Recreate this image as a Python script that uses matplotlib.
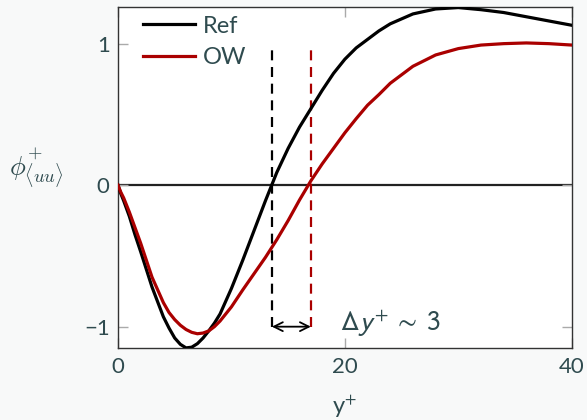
import numpy as np
import matplotlib
matplotlib.use("Agg")
import matplotlib.pyplot as plt

plt.rcParams['font.family'] = ['Lato', 'DejaVu Sans']
txt = '#2f4b4f'

# wall-normal distance and the two phi profiles
yplus = [0, 0.25, 0.5, 1, 1.5, 2, 3, 4, 4.5, 5, 5.5, 6, 6.5, 7, 7.5, 8,
         8.5, 9, 10, 11, 12, 13, 14, 15, 16, 17, 18, 19, 20, 21, 22, 23,
         24, 26, 28, 30, 32, 34, 36, 38, 40]
phi_ref = [0.0, -0.06, -0.11, -0.22, -0.35, -0.47, -0.72, -0.93, -1.01,
           -1.08, -1.125, -1.15, -1.145, -1.12, -1.08, -1.03, -0.975,
           -0.91, -0.73, -0.53, -0.32, -0.11, 0.09, 0.26, 0.41, 0.54, 0.67,
           0.79, 0.89, 0.97, 1.03, 1.09, 1.14, 1.21, 1.245, 1.255, 1.24,
           1.22, 1.19, 1.16, 1.13]
phi_ow = [0.0, -0.05, -0.09, -0.19, -0.30, -0.41, -0.65, -0.83, -0.90,
          -0.95, -0.99, -1.02, -1.04, -1.05, -1.045, -1.03, -1.00, -0.96,
          -0.86, -0.74, -0.625, -0.51, -0.385, -0.25, -0.105, 0.03, 0.15,
          0.26, 0.37, 0.47, 0.565, 0.64, 0.72, 0.84, 0.92, 0.965, 0.99,
          1.0, 1.005, 1.0, 0.99]

# zero crossings marked by the dashed lines
cross_ref = 13.57
cross_ow = 17.0

fig = plt.figure(figsize=(5.87, 4.2), dpi=100, facecolor='#f8f9f9')
ax = fig.add_axes([0.201, 0.171, 0.773, 0.812])
ax.set_facecolor('white')

ax.axhline(0, color='#222222', lw=1.6, zorder=1)
ax.plot(yplus, phi_ref, color='black', lw=2.3, label='Ref', zorder=3)
ax.plot(yplus, phi_ow, color='#aa0000', lw=2.3, label='OW', zorder=3)

ax.plot([cross_ref, cross_ref], [-1, 1], color='black', lw=1.6,
        dashes=(4.5, 3), zorder=2)
ax.plot([cross_ow, cross_ow], [-1, 1], color='#aa0000', lw=1.6,
        dashes=(4.5, 3), zorder=2)
ax.annotate('', xy=(cross_ow, -1), xytext=(cross_ref, -1),
            arrowprops=dict(arrowstyle='<->', color='black', lw=1.3,
                            mutation_scale=16, shrinkA=0, shrinkB=0))
ax.text(19.6, -0.975, r'$\Delta y^{+}\;\sim\;3$', color=txt, fontsize=20,
        va='center', ha='left', math_fontfamily='stixsans')

ax.set_xlim(0, 40)
ax.set_ylim(-1.152, 1.258)
ax.set_xticks([0, 20, 40])
ax.set_yticks([-1, 0, 1])
ax.set_yticklabels(['\u22121', '0', '1'])
ax.tick_params(direction='in', length=7, width=1, color='#aaaaaa',
               labelcolor=txt, labelsize=16, top=True, right=True, pad=6)
for s in ax.spines.values():
    s.set_color('#333333')
    s.set_linewidth(1.0)

ax.set_xlabel(r'y$^{+}$', color=txt, fontsize=17, labelpad=12,
              math_fontfamily='stixsans')
ax.set_ylabel(r'$\phi^{+}_{\langle uu\rangle}$', color=txt, fontsize=19,
              rotation=0, math_fontfamily='cm')
ax.yaxis.set_label_coords(-0.18, 0.46)

leg = ax.legend(loc='upper left', frameon=False, fontsize=17,
                handlelength=2.2, handletextpad=0.3, borderaxespad=0.1,
                labelspacing=0.45, bbox_to_anchor=(0.03, 1.01))
for t in leg.get_texts():
    t.set_color(txt)

fig.savefig('out.png', dpi=100, facecolor=fig.get_facecolor())
